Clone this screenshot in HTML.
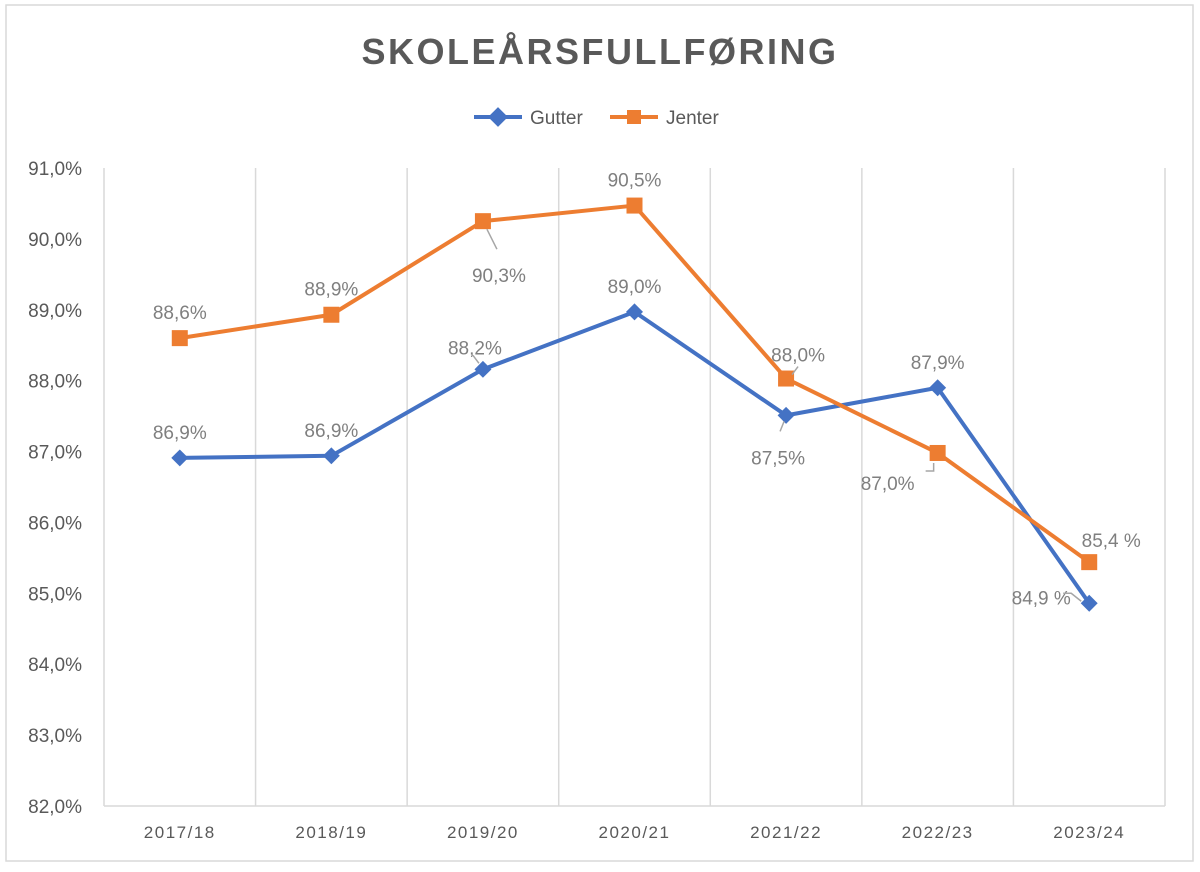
<!DOCTYPE html>
<html><head><meta charset="utf-8"><style>
body{margin:0;background:#fff;font-family:"Liberation Sans",sans-serif}
svg text{font-family:"Liberation Sans",sans-serif}
</style></head><body>
<svg width="1200" height="867">
<rect x="6" y="5" width="1187" height="856" fill="#fff" stroke="#d9d9d9" stroke-width="1.5"/>
<text x="600" y="64" text-anchor="middle" font-size="36" font-weight="bold" fill="#595959" letter-spacing="2.5">SKOLEÅRSFULLFØRING</text>
<g id="legend">
<g><line x1="474" y1="117" x2="522" y2="117" stroke="#4472c4" stroke-width="4"/><rect x="491" y="110" width="14" height="14" fill="#4472c4" transform="rotate(45 498 117)"/><text x="530" y="124" font-size="19" fill="#595959">Gutter</text></g>
<g><line x1="610" y1="117" x2="658" y2="117" stroke="#ed7d31" stroke-width="4"/><rect x="627" y="110" width="14" height="14" fill="#ed7d31"/><text x="666" y="124" font-size="19" fill="#595959">Jenter</text></g>
</g>
<g id="grid"></g><g id="axes"></g><g id="series"></g><g id="labels"></g>
</svg>
<script>
const categories=["2017/18","2018/19","2019/20","2020/21","2021/22","2022/23","2023/24"];
const gutter=[86.91,86.94,88.16,88.97,87.51,87.90,84.86];
const jenter=[88.60,88.93,90.25,90.47,88.03,86.98,85.44];
const gutterLabels=["86,9%","86,9%","88,2%","89,0%","87,5%","87,9%","84,9 %"];
const jenterLabels=["88,6%","88,9%","90,3%","90,5%","88,0%","87,0%","85,4 %"];
const yTicks=[82,83,84,85,86,87,88,89,90,91];
const yTickLabels=["82,0%","83,0%","84,0%","85,0%","86,0%","87,0%","88,0%","89,0%","90,0%","91,0%"];
const NS="http://www.w3.org/2000/svg";
const L=104,R=1165,T=168,B=806,yMin=82,yMax=91;
const bw=(R-L)/categories.length;
const x=i=>L+bw*(i+0.5);
const y=v=>B-(v-yMin)/(yMax-yMin)*(B-T);
function mk(tag,attrs,parent,txt){const e=document.createElementNS(NS,tag);for(const k in attrs)e.setAttribute(k,attrs[k]);if(txt!==undefined)e.textContent=txt;parent.appendChild(e);return e;}
const grid=document.getElementById('grid'),axes=document.getElementById('axes'),ser=document.getElementById('series'),lab=document.getElementById('labels');
for(let i=0;i<=categories.length;i++){const g=mk('line',{x1:L+bw*i,x2:L+bw*i,y1:T,y2:B,stroke:'#d9d9d9','stroke-width':1.5},grid);

}
const ax=mk('line',{x1:L,x2:R,y1:B,y2:B,stroke:'#d9d9d9','stroke-width':1.5},axes);


yTicks.forEach((t,i)=>{const e=mk('text',{x:82,y:y(t)+7,'text-anchor':'end','font-size':19,fill:'#595959'},axes,yTickLabels[i]);

});
categories.forEach((c,i)=>{const e=mk('text',{x:x(i),y:838,'text-anchor':'middle','font-size':17,fill:'#595959','letter-spacing':1.5},axes,c);

});
function line(vals,col,name){const p=mk('polyline',{points:vals.map((v,i)=>x(i)+','+y(v)).join(' '),fill:'none',stroke:col,'stroke-width':4,'stroke-linejoin':'round'},ser);

}
line(gutter,'#4472c4','gutter');line(jenter,'#ed7d31','jenter');
gutter.forEach((v,i)=>{const m=mk('rect',{x:x(i)-6,y:y(v)-6,width:12,height:12,fill:'#4472c4',transform:`rotate(45 ${x(i)} ${y(v)})`},ser);

});
jenter.forEach((v,i)=>{const m=mk('rect',{x:x(i)-8,y:y(v)-8,width:16,height:16,fill:'#ed7d31'},ser);

});
// label offsets (dx,dy relative to point) — styling only
const gOff=[[0,-26],[0,-26],[-8,-22],[0,-26],[-8,42],[0,-26],[-48,-6]];
const jOff=[[0,-26],[0,-26],[16,54],[0,-26],[12,-24],[-50,30],[22,-22]];
function labels(vals,texts,off,name){vals.forEach((v,i)=>{const e=mk('text',{x:x(i)+off[i][0],y:y(v)+off[i][1]+7,'text-anchor':'middle','font-size':19,fill:'#7f7f7f'},lab,texts[i]);

});}
labels(gutter,gutterLabels,gOff,'gutter');labels(jenter,jenterLabels,jOff,'jenter');
// leader lines
const leaders=[[x(2)-4,y(gutter[2])-6,x(2)-10,y(gutter[2])-14],[x(2)+4,y(jenter[2])+8,x(2)+14,y(jenter[2])+28],[x(4)-2,y(gutter[4])+6,x(4)-6,y(gutter[4])+16],[x(4)+6,y(jenter[4])-4,x(4)+12,y(jenter[4])-12],[x(5)-4,y(jenter[5])+10,x(5)-4,y(jenter[5])+18,x(5)-12,y(jenter[5])+18],[x(6)-8,y(gutter[6])-2,x(6)-18,y(gutter[6])-10,x(6)-26,y(gutter[6])-10]];
leaders.forEach(p=>{const pts=[];for(let k=0;k<p.length;k+=2)pts.push(p[k]+','+p[k+1]);const e=mk('polyline',{points:pts.join(' '),fill:'none',stroke:'#a6a6a6','stroke-width':1.5},lab);

});
</script>
</body></html>
